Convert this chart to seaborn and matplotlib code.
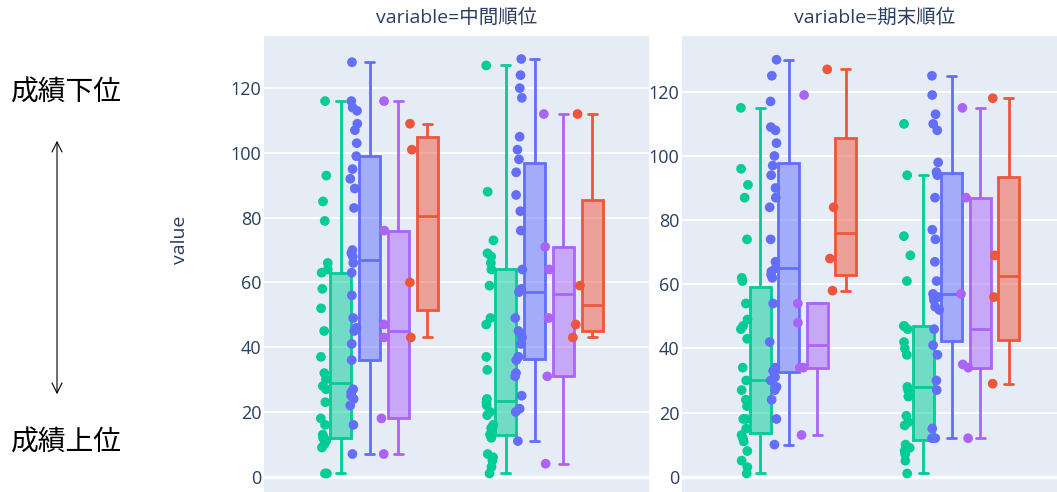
import numpy as np
import pandas as pd
import seaborn as sns
import matplotlib as mpl
import matplotlib.pyplot as plt
from matplotlib.patches import FancyArrowPatch

# facets, x categories and colour groups
variables = ['中間順位', '期末順位']
classes = ['A', 'B']
kinds = ['k0', 'k1', 'k2', 'k3']
colors = ['#00CC96', '#636EFA', '#AB63FA', '#EF553B']
yticks = [0, 20, 40, 60, 80, 100, 120]

# 中間順位
mid_a_k0 = [116, 93, 85, 79, 66, 64, 63, 58, 52, 45, 37, 32, 30, 28, 27, 23, 18, 16, 13, 12, 12, 11, 10, 9, 1, 1]
mid_a_k1 = [128, 116, 114, 113, 109, 107, 103, 99, 95, 92, 89, 83, 70, 69, 68, 66, 63, 56, 49, 46, 45, 41, 36,
            27, 26, 25, 24, 22, 16, 7]
mid_a_k2 = [116, 76, 47, 43, 18, 7]
mid_a_k3 = [109, 101, 60, 43]
mid_b_k0 = [127, 88, 73, 69, 68, 66, 64, 59, 49, 47, 37, 33, 24, 23, 22, 20, 19, 16, 15, 13, 12, 7, 6, 5, 3, 1]
mid_b_k1 = [129, 124, 120, 117, 105, 101, 98, 94, 87, 82, 76, 64, 58, 57, 49, 45, 43, 41, 37, 37, 36, 32, 31,
            25, 21, 20, 11]
mid_b_k2 = [112, 71, 64, 49, 31, 4]
mid_b_k3 = [112, 59, 47, 43]

# 期末順位
fin_a_k0 = [115, 96, 91, 87, 74, 62, 61, 54, 49, 47, 46, 43, 34, 30, 27, 24, 22, 18, 18, 15, 13, 12, 11, 8, 5, 3, 1]
fin_a_k1 = [130, 125, 117, 109, 108, 104, 100, 97, 94, 90, 87, 84, 74, 67, 65, 64, 63, 62, 54, 42, 34, 33, 31,
            30, 28, 27, 24, 18, 10]
fin_a_k2 = [119, 54, 48, 34, 34, 13]
fin_a_k3 = [127, 84, 68, 58]
fin_b_k0 = [110, 94, 75, 69, 61, 47, 47, 46, 42, 40, 38, 28, 27, 25, 19, 17, 16, 10, 9, 8, 7, 5, 1]
fin_b_k1 = [125, 119, 113, 110, 108, 98, 95, 94, 87, 77, 74, 67, 61, 57, 56, 56, 55, 53, 52, 46, 41, 38, 30,
            27, 15, 12, 12]
fin_b_k2 = [115, 87, 57, 35, 34, 12]
fin_b_k3 = [118, 69, 56, 29]

series = {
    ('中間順位', 'A'): [mid_a_k0, mid_a_k1, mid_a_k2, mid_a_k3],
    ('中間順位', 'B'): [mid_b_k0, mid_b_k1, mid_b_k2, mid_b_k3],
    ('期末順位', 'A'): [fin_a_k0, fin_a_k1, fin_a_k2, fin_a_k3],
    ('期末順位', 'B'): [fin_b_k0, fin_b_k1, fin_b_k2, fin_b_k3],
}
rows = [(var, cls, kind, v)
        for (var, cls), groups in series.items()
        for kind, vals in zip(kinds, groups)
        for v in vals]
df = pd.DataFrame(rows, columns=['variable', 'cls', 'kind', 'value'])
palette = dict(zip(kinds, colors))

# plotly puts the quartiles with the "hazen" rule, matplotlib uses numpy's default
_boxplot_stats = mpl.cbook.boxplot_stats


def plotly_stats(X, whis=1.5, **kws):
    stats = _boxplot_stats(X, whis=whis, **kws)
    cols = X if np.ndim(X[0]) else [X]
    for st, x in zip(stats, cols):
        x = np.asarray(x, dtype=float)
        q1, med, q3 = np.percentile(x, [25, 50, 75], method='hazen')
        iqr = q3 - q1
        st.update(q1=q1, med=med, q3=q3, iqr=iqr,
                  whislo=x[x >= q1 - whis * iqr].min(),
                  whishi=x[x <= q3 + whis * iqr].max())
    return stats


mpl.cbook.boxplot_stats = plotly_stats

sns.set_theme(style='darkgrid', rc={'axes.facecolor': '#E5ECF6', 'grid.color': 'white',
                                    'grid.linewidth': 1.3})
plt.rcParams['font.family'] = ['Open Sans', 'Noto Sans CJK JP', 'DejaVu Sans']
np.random.seed(3)

W, H = 1057, 492
fig = plt.figure(figsize=(W / 100, H / 100), dpi=100)
ax_l = fig.add_axes([264 / W, 0, 385 / W, 456 / H])
ax_r = fig.add_axes([682 / W, 0, 385 / W, 456 / H])

box_w = 0.7
limits = {
    '中間順位': ((-0.727, 1.606), (-4.73, 136.1)),
    '期末順位': ((-0.742, 1.62), (-4.77, 137.4)),
}

for ax, var in zip([ax_l, ax_r], variables):
    sub = df[df['variable'] == var]
    for kind, color in zip(kinds, colors):
        n0 = len(ax.patches)
        sns.boxplot(data=sub[sub['kind'] == kind], x='cls', y='value', hue='kind',
                    order=classes, hue_order=kinds, palette=palette, linecolor=color,
                    dodge=True, width=box_w, gap=0.27, linewidth=2.0, showfliers=False,
                    capwidths=0.055, legend=False, ax=ax)
        for p in ax.patches[n0:]:
            p.set_facecolor(mpl.colors.to_rgba(color, 0.5))

    n0 = len(ax.collections)
    sns.stripplot(data=sub, x='cls', y='value', hue='kind', order=classes, hue_order=kinds,
                  palette=palette, dodge=True, jitter=0.11, size=7, linewidth=0,
                  legend=False, zorder=3, ax=ax)
    # plotly draws the points just left of their box
    for coll in ax.collections[n0:]:
        xy = coll.get_offsets()
        g = np.round(xy[:, 0])
        xy[:, 0] = g + (xy[:, 0] - g) * box_w / 0.8 - 0.097
        coll.set_offsets(xy)

    xlim, ylim = limits[var]
    ax.set_xlim(*xlim)
    ax.set_ylim(*ylim)
    ax.set_yticks(yticks)
    ax.grid(axis='x', visible=False)
    ax.axhline(0, color='white', lw=2.4, zorder=0.9)
    ax.set_xlabel('')
    ax.set_ylabel('')
    ax.tick_params(axis='x', length=0, labelbottom=False)
    ax.tick_params(axis='y', length=0, pad=2, labelsize=13, labelcolor='#2a3f5f')
    for s in ax.spines.values():
        s.set_visible(False)
    ax.text(0.5, 1.0395, f'variable={var}', transform=ax.transAxes, ha='center', va='center',
            fontsize=14, color='#2a3f5f')

fig.text(180 / W, 1 - 240 / H, 'value', rotation=90, ha='center', va='center',
         fontsize=14, color='#2a3f5f')

# annotation on the left: lower rank at the top
fig.text(66 / W, 1 - 93 / H, '成績下位', ha='center', va='center', fontsize=20,
         family='Noto Sans CJK JP', color='black')
fig.text(66 / W, 1 - 443 / H, '成績上位', ha='center', va='center', fontsize=20,
         family='Noto Sans CJK JP', color='black')
fig.add_artist(FancyArrowPatch((57 / W, 1 - 138 / H), (57 / W, 1 - 397 / H),
                               transform=fig.transFigure, color='black', lw=0.8,
                               mutation_scale=12,
                               arrowstyle='<->,head_length=0.6,head_width=0.3'))

fig.savefig('out.png', dpi=100, facecolor='white')
